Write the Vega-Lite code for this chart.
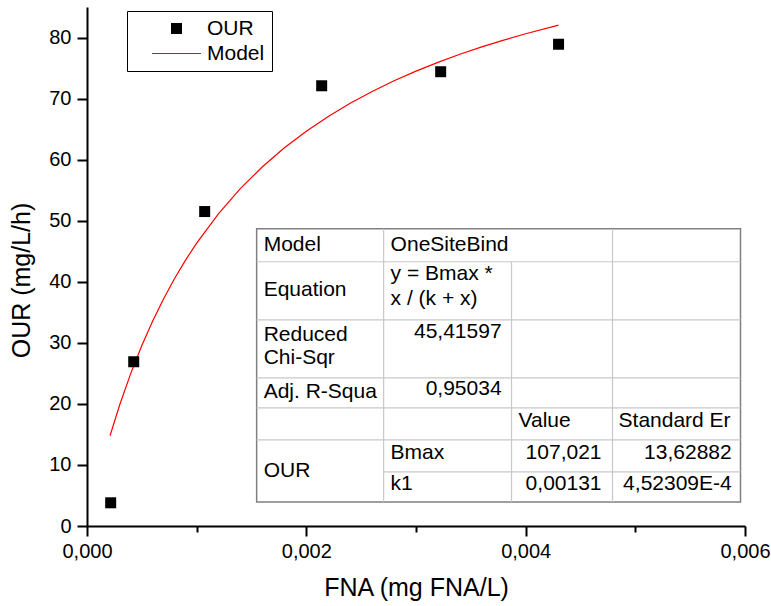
{
  "$schema": "https://vega.github.io/schema/vega-lite/v6.json",
  "width": 658,
  "height": 519,
  "autosize": {"type": "none"},
  "padding": {"left": 87, "top": 7, "right": 26, "bottom": 80},
  "background": "white",
  "config": {
    "view": {"stroke": null},
    "font": "Liberation Sans",
    "axis": {
      "grid": false,
      "domainColor": "black",
      "domainWidth": 2,
      "tickColor": "black",
      "tickWidth": 2,
      "labelFont": "Liberation Sans",
      "labelFontSize": 20,
      "labelColor": "black",
      "titleFont": "Liberation Sans",
      "titleFontSize": 25,
      "titleFontWeight": "normal",
      "titleColor": "black"
    }
  },
  "datasets": {
    "points": [
      {"fna": 0.000216, "our": 3.8, "series": "OUR"},
      {"fna": 0.000426, "our": 26.9, "series": "OUR"},
      {"fna": 0.001073, "our": 51.5, "series": "OUR"},
      {"fna": 0.00214, "our": 72.1, "series": "OUR"},
      {"fna": 0.003225, "our": 74.4, "series": "OUR"},
      {"fna": 0.0043, "our": 78.9, "series": "OUR"}
    ],
    "curve": [
      {"fna": 0.00021, "our": 14.786},
      {"fna": 0.0003, "our": 19.942},
      {"fna": 0.0004, "our": 25.034},
      {"fna": 0.0005, "our": 29.564},
      {"fna": 0.0006, "our": 33.619},
      {"fna": 0.0007, "our": 37.271},
      {"fna": 0.0008, "our": 40.577},
      {"fna": 0.0009, "our": 43.583},
      {"fna": 0.001, "our": 46.329},
      {"fna": 0.0012, "our": 51.165},
      {"fna": 0.0014, "our": 55.287},
      {"fna": 0.0016, "our": 58.843},
      {"fna": 0.0018, "our": 61.941},
      {"fna": 0.002, "our": 64.665},
      {"fna": 0.0022, "our": 67.079},
      {"fna": 0.0024, "our": 69.232},
      {"fna": 0.0026, "our": 71.165},
      {"fna": 0.0028, "our": 72.91},
      {"fna": 0.003, "our": 74.493},
      {"fna": 0.0032, "our": 75.935},
      {"fna": 0.0034, "our": 77.255},
      {"fna": 0.0036, "our": 78.467},
      {"fna": 0.0038, "our": 79.585},
      {"fna": 0.004, "our": 80.618},
      {"fna": 0.0043, "our": 82.03}
    ],
    "box": [
      {"x1": 0.001547, "x2": 0.005959, "y1": 3.93, "y2": 48.69}
    ],
    "grid": [
      {"x1": 0.001547, "x2": 0.005959, "y1": 43.28, "y2": 43.28},
      {"x1": 0.001547, "x2": 0.005959, "y1": 33.77, "y2": 33.77},
      {"x1": 0.001547, "x2": 0.005959, "y1": 24.26, "y2": 24.26},
      {"x1": 0.001547, "x2": 0.005959, "y1": 19.34, "y2": 19.34},
      {"x1": 0.001547, "x2": 0.005959, "y1": 14.1, "y2": 14.1},
      {"x1": 0.002705, "x2": 0.005959, "y1": 8.85, "y2": 8.85},
      {"x1": 0.002705, "x2": 0.002705, "y1": 3.93, "y2": 48.69},
      {"x1": 0.003871, "x2": 0.003871, "y1": 3.93, "y2": 43.28},
      {"x1": 0.004792, "x2": 0.004792, "y1": 3.93, "y2": 48.69}
    ],
    "cellsLeft": [
      {"x": 0.0016108, "y": 46.07, "label": "Model"},
      {"x": 0.0027685, "y": 46.07, "label": "OneSiteBind"},
      {"x": 0.0016108, "y": 38.69, "label": "Equation"},
      {"x": 0.0027685, "y": 41.31, "label": "y = Bmax *"},
      {"x": 0.0027685, "y": 37.21, "label": "x / (k + x)"},
      {"x": 0.0016108, "y": 31.31, "label": "Reduced"},
      {"x": 0.0016108, "y": 27.54, "label": "Chi-Sqr"},
      {"x": 0.0016108, "y": 21.97, "label": "Adj. R-Squa"},
      {"x": 0.0039353, "y": 17.21, "label": "Value"},
      {"x": 0.0048469, "y": 17.21, "label": "Standard Er"},
      {"x": 0.0016108, "y": 9.02, "label": "OUR"},
      {"x": 0.0027685, "y": 11.97, "label": "Bmax"},
      {"x": 0.0027685, "y": 6.89, "label": "k1"}
    ],
    "cellsRight": [
      {"x": 0.0037803, "y": 31.8, "label": "45,41597"},
      {"x": 0.0037803, "y": 22.46, "label": "0,95034"},
      {"x": 0.0046919, "y": 11.97, "label": "107,021"},
      {"x": 0.0058788, "y": 11.97, "label": "13,62882"},
      {"x": 0.0046919, "y": 6.89, "label": "0,00131"},
      {"x": 0.0058788, "y": 6.89, "label": "4,52309E-4"}
    ]
  },
  "layer": [
    {
      "data": {"name": "box"},
      "mark": {"type": "rect", "fill": "white", "stroke": "#808080", "strokeWidth": 1.5},
      "encoding": {
        "x": {
          "field": "x1", "type": "quantitative", "title": "FNA (mg FNA/L)",
          "scale": {"domain": [0, 0.006], "nice": false, "zero": false},
          "axis": {
            "values": [0, 0.001, 0.002, 0.003, 0.004, 0.005, 0.006],
            "labelExpr": "round(datum.value*1000) % 2 == 1 ? '' : replace(format(datum.value, '.3f'), '.', ',')",
            "tickSize": {"condition": {"test": "round(datum.value*1000) % 2 == 1", "value": 6}, "value": 10},
            "labelPadding": 5,
            "labelFlush": false,
            "labelOverlap": false,
            "titlePadding": 14
          }
        },
        "x2": {"field": "x2"},
        "y": {
          "field": "y1", "type": "quantitative", "title": "OUR (mg/L/h)",
          "scale": {"domain": [0, 85], "nice": false, "zero": false},
          "axis": {
            "values": [0, 5, 10, 15, 20, 25, 30, 35, 40, 45, 50, 55, 60, 65, 70, 75, 80],
            "labelExpr": "datum.value % 10 == 0 ? datum.label : ''",
            "tickSize": {"condition": {"test": "datum.value % 10 != 0", "value": 6}, "value": 10},
            "labelPadding": 6,
            "labelFlush": false,
            "labelOverlap": false,
            "titleAngle": -90,
            "titleBaseline": "bottom",
            "titleAlign": "center",
            "titleX": -53,
            "titleY": 273
          }
        },
        "y2": {"field": "y2"}
      }
    },
    {
      "data": {"name": "grid"},
      "mark": {"type": "rule", "color": "#c8c8c8", "strokeWidth": 1.2},
      "encoding": {
        "x": {"field": "x1", "type": "quantitative", "title": "FNA (mg FNA/L)"},
        "x2": {"field": "x2"},
        "y": {"field": "y1", "type": "quantitative", "title": "OUR (mg/L/h)"},
        "y2": {"field": "y2"}
      }
    },
    {
      "data": {"name": "cellsLeft"},
      "mark": {"type": "text", "align": "left", "baseline": "middle", "fontSize": 21, "font": "Liberation Sans", "color": "black"},
      "encoding": {
        "x": {"field": "x", "type": "quantitative", "title": "FNA (mg FNA/L)"},
        "y": {"field": "y", "type": "quantitative", "title": "OUR (mg/L/h)"},
        "text": {"field": "label"}
      }
    },
    {
      "data": {"name": "cellsRight"},
      "mark": {"type": "text", "align": "right", "baseline": "middle", "fontSize": 21, "font": "Liberation Sans", "color": "black"},
      "encoding": {
        "x": {"field": "x", "type": "quantitative", "title": "FNA (mg FNA/L)"},
        "y": {"field": "y", "type": "quantitative", "title": "OUR (mg/L/h)"},
        "text": {"field": "label"}
      }
    },
    {
      "data": {"name": "curve"},
      "mark": {"type": "line", "color": "red", "strokeWidth": 1.2, "interpolate": "linear"},
      "encoding": {
        "x": {"field": "fna", "type": "quantitative", "title": "FNA (mg FNA/L)"},
        "y": {"field": "our", "type": "quantitative", "title": "OUR (mg/L/h)"}
      }
    },
    {
      "data": {"name": "points"},
      "mark": {"type": "point", "shape": "square", "filled": true, "size": 121, "opacity": 1},
      "encoding": {
        "x": {"field": "fna", "type": "quantitative", "title": "FNA (mg FNA/L)"},
        "y": {"field": "our", "type": "quantitative", "title": "OUR (mg/L/h)"},
        "color": {
          "field": "series", "type": "nominal",
          "scale": {"domain": ["OUR", "Model"], "range": ["black", "red"]},
          "legend": {
            "orient": "none",
            "legendX": 40,
            "legendY": 4,
            "title": null,
            "strokeColor": "black",
            "fillColor": "white",
            "padding": 7,
            "labelFontSize": 21,
            "labelFont": "Liberation Sans",
            "labelColor": "black",
            "symbolSize": 121,
            "symbolOffset": 32,
            "labelOffset": 20,
            "rowPadding": 3,
            "symbolType": {"expr": "datum.value === 'Model' ? 'M-4.45,0H4.45' : 'square'"},
            "symbolStrokeColor": {"expr": "datum.value === 'Model' ? 'red' : 'black'"},
            "symbolStrokeWidth": {"expr": "datum.value === 'Model' ? 1.2 : 0"}
          }
        }
      }
    }
  ]
}
